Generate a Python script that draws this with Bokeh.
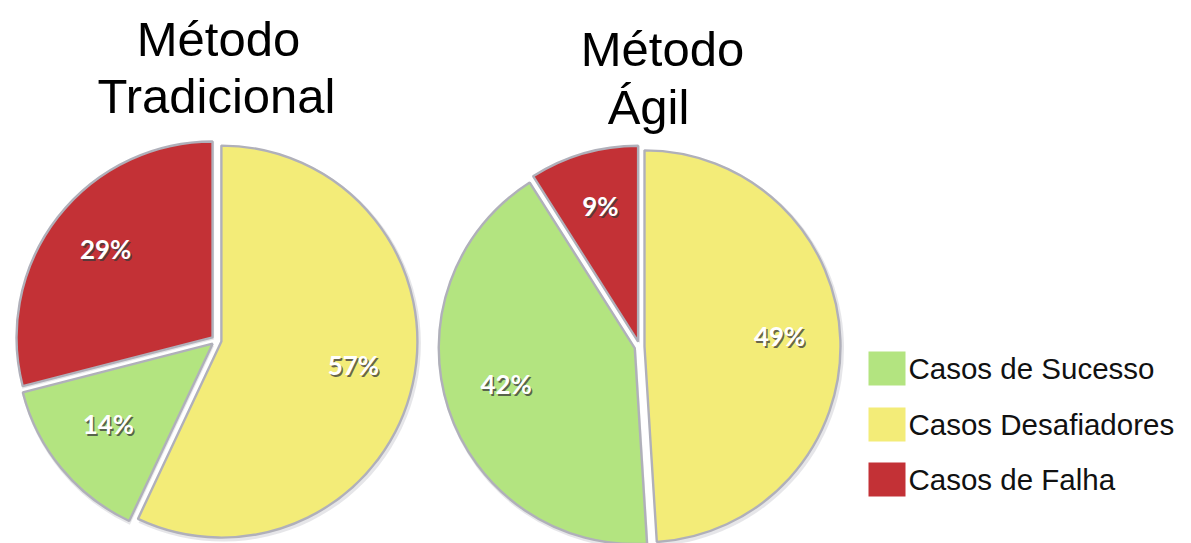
import math
from bokeh.plotting import figure
from bokeh.models import Range1d
from bokeh.core.properties import value
from bokeh.embed import file_html
from bokeh.resources import INLINE

# ---- data ----
categories = ["Casos de Sucesso", "Casos Desafiadores", "Casos de Falha"]
colors = ["#B3E480", "#F3EC78", "#C33136"]
tradicional = [14, 57, 29]
agil = [42, 49, 9]
titles = [["Método", "Tradicional"], ["Método", "Ágil"]]
pie_order = [1, 0, 2]  # clockwise from 12 o'clock: Desafiadores, Sucesso, Falha

W, H = 1191, 543
p = figure(width=W, height=H, output_backend="svg", toolbar_location=None,
           x_range=Range1d(0, W), y_range=Range1d(0, H),
           x_axis_type=None, y_axis_type=None, min_border=0)
p.outline_line_color = None
p.grid.visible = False
p.background_fill_color = "white"
p.border_fill_color = "white"

R = 196
EXPLODE = 5
pies = [
    dict(vals=tradicional, cx=216, cy=H - 340, title=titles[0],
         tpos=[(218, H - 38), (216, H - 95)]),
    dict(vals=agil, cx=639, cy=H - 346, title=titles[1],
         tpos=[(662, H - 48), (648, H - 106)]),
]

for pie in pies:
    vals = pie["vals"]
    total = float(sum(vals))
    theta = 0.0
    wx, wy, sa, ea, fc, lx, ly, lt = [], [], [], [], [], [], [], []
    for idx in pie_order:
        frac = vals[idx] / total * 360.0
        t1, t2 = theta, theta + frac
        tm = (t1 + t2) / 2
        a_mid = math.radians(90 - tm)
        cx = pie["cx"] + EXPLODE * math.cos(a_mid)
        cy = pie["cy"] + EXPLODE * math.sin(a_mid)
        wx.append(cx); wy.append(cy)
        sa.append(math.radians(90 - t1)); ea.append(math.radians(90 - t2))
        fc.append(colors[idx])
        lx.append(cx + 0.69 * R * math.cos(a_mid))
        ly.append(cy + 0.69 * R * math.sin(a_mid) + 6)
        lt.append(f"{vals[idx]}%")
        theta = t2
    # soft shadow
    p.wedge(x=[x + 1.5 for x in wx], y=[y - 2 for y in wy], radius=R + 2,
            start_angle=sa, end_angle=ea, direction="clock",
            fill_color="#9a9aa6", fill_alpha=0.25, line_color=None)
    p.wedge(x=wx, y=wy, radius=R, start_angle=sa, end_angle=ea, direction="clock",
            fill_color=fc, line_color="#b0b0ba", line_width=2.4)
    # labels with shadow
    p.text(x=[x + 1.5 for x in lx], y=[y - 2 for y in ly], text=lt,
           text_font=value("Lato"), text_font_size="26px", text_font_style="bold",
           text_color="#3a3a3a", text_alpha=0.75, text_align="center", text_baseline="middle")
    p.text(x=lx, y=ly, text=lt,
           text_font=value("Lato"), text_font_size="26px", text_font_style="bold",
           text_color="white", text_align="center", text_baseline="middle")
    # title
    p.text(x=[t[0] for t in pie["tpos"]], y=[t[1] for t in pie["tpos"]], text=pie["title"],
           text_font=value("Liberation Sans"), text_font_size="49px",
           text_color="black", text_align="center", text_baseline="alphabetic")

# ---- legend ----
leg_order = [0, 1, 2]
sq_x0, sq_x1 = 868, 905
row_y = [H - 368, H - 424, H - 479]
p.quad(left=[sq_x0] * 3, right=[sq_x1] * 3,
       bottom=[y - 17 for y in row_y], top=[y + 17 for y in row_y],
       fill_color=[colors[i] for i in leg_order], line_color=None)
p.text(x=[908] * 3, y=row_y, text=[categories[i] for i in leg_order],
       text_font=value("Liberation Sans"), text_font_size="29.5px",
       text_color="#111111", text_align="left", text_baseline="middle")

open("out.html", "w").write(file_html(p, INLINE))
